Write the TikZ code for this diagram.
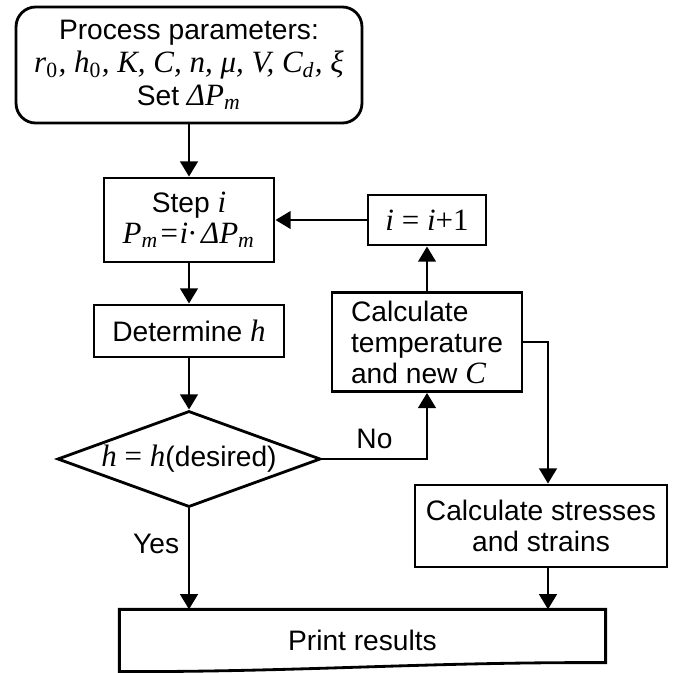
\documentclass[tikz,border=0pt]{standalone}
\usepackage{fontspec}
\setmainfont{Liberation Sans}
\newfontfamily\tms{Liberation Serif}[Scale=1.1]
\usepackage{tikz}
\usetikzlibrary{shapes,arrows.meta,positioning}
\def\Var#1{{\tms\itshape #1}}
\def\Sub#1{\textsubscript{#1}}

\begin{document}
\begin{tikzpicture}[x=0.355pt,y=-0.355pt,% pixel grid of the original, y downwards
      every node/.style={
        align=center,     % "\\" breaks the lines
        inner sep=0pt,
        font=\fontsize{10}{11}\selectfont
      },
      box/.style={rectangle,draw=black,line width=1pt},
      every edge/.style={draw,line width=1pt},
      >={Triangle[length=5.4pt,width=6.2pt]}
    ]
    \useasboundingbox (0,0) rectangle (673,673);
    \node[box,rounded corners=7pt,minimum width=122.8pt,minimum height=41.2pt,font=\fontsize{10}{11.7}\selectfont](R1) at (189,65){Process parameters:\\ {\tms\itshape r\Sub{\upshape 0}, h\Sub{\upshape 0}, K, C, n, μ, V, C\Sub{d}, ξ}\\ Set \Var{ΔP\Sub{m}}};
    \node[box,minimum width=60.4pt,minimum height=29.8pt](R2) at (189,220){Step \Var{i}\\ \Var{P\Sub{m}=i·\,ΔP\Sub{m}}};
    \node[box,minimum width=41.9pt,minimum height=17.8pt](R3) at (427,220){\Var{i} {\tms=} \Var{i}{\tms+1}};
    \node[box,minimum width=67.5pt,minimum height=18.5pt](R4) at (189,331){Determine \Var{h}};
    \node[diamond,draw=black,line width=1pt,aspect=2.7,minimum width=93.4pt,minimum height=34.1pt](R5) at (189,459){\Var{h} {\tms=} \Var{h}(desired)};
    \node[box,align=left,minimum width=67.5pt,minimum height=35.1pt](R6) at (427,342){Calculate\\temperature\\and new \Var{C}};
    \node[box,minimum width=89.5pt,minimum height=29.1pt](R7) at (541,526){Calculate stresses\\and strains};
    \node[minimum width=172.2pt,minimum height=21.7pt](R8) at (362.5,640.5){Print results};
    \coordinate (S) at (548,526);
    % document shape of the last box
    \draw[line width=1pt] (R8.north west) -- (R8.north east) -- ([yshift=3.2pt]R8.south east)
      .. controls (425,662) and (300,672) .. (R8.south west) -- cycle;
    \path[->]
    (R1)edge (R2)
    (R2)edge (R4)
    (R4)edge (R5)
    (R6)edge (R3)
    (R3)edge (R2)
    ;
    \draw[->,line width=1pt] (R5.east) -| node[pos=0.25,above=3pt]{No} (R6.south);
    \draw[->,line width=1pt] (R5.south) -- node[pos=0.35,left=3pt]{Yes} (R5.south |- R8.north);
    \draw[->,line width=1pt] (R6.east) -| (S |- R7.north);
    \draw[->,line width=1pt] (S |- R7.south) -- (S |- R8.north);
  \end{tikzpicture}
\end{document}
